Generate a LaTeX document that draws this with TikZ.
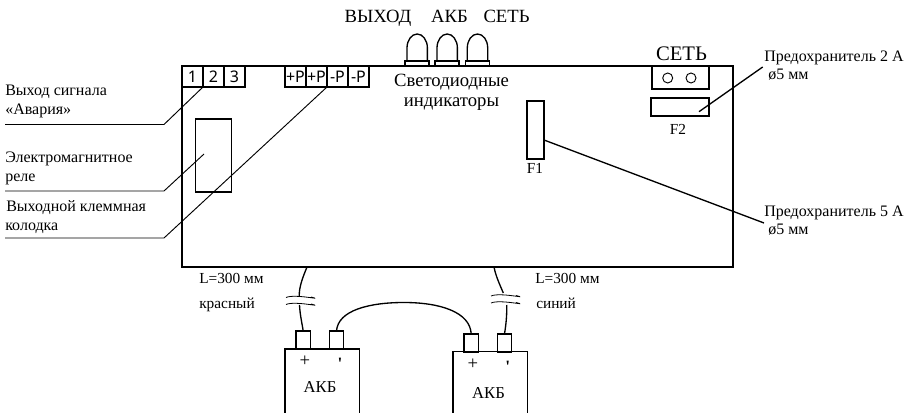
\documentclass[tikz,border=0pt]{standalone}
\usepackage{fontspec}
\setmainfont{Liberation Serif}
\newfontfamily\termfont{Noto Sans}
\tikzset{
  px/.style 2 args={minimum width=#1*0.75pt,minimum height=#2*0.75pt},
  box/.style={draw,line width=1.1pt,inner sep=0pt,outer sep=0pt,fill=white},
  term/.style={box,line width=0.8pt,font=\termfont\fontsize{12}{14}\selectfont},
  lbl/.style={inner sep=0pt,anchor=base west,font=\fontsize{12}{14}\selectfont},
  lblsm/.style={lbl,font=\fontsize{11.5}{14}\selectfont},
  big/.style={inner sep=0pt,anchor=base,font=\fontsize{14}{16}\selectfont},
  mid/.style={inner sep=0pt,anchor=base,font=\fontsize{14}{16}\selectfont},
  small/.style={inner sep=0pt,anchor=base,font=\fontsize{11.5}{14}\selectfont},
  batlbl/.style={inner sep=0pt,anchor=base,font=\fontsize{12.5}{14}\selectfont},
  leader/.style={line width=0.7pt},
  wire/.style={line width=1pt},
  led/.style={line width=1pt},
  squig/.style={line width=0.6pt},
}
\begin{document}
\begin{tikzpicture}[x=0.75pt,y=-0.75pt]
\useasboundingbox (0,0) rectangle (914,413);
% main case
\node[box,px={551}{201},fill=none] (case) at (457.5,166.5) {};
% signal terminals
\node[term,px={21}{21}] (t1) at (192.5,76.5) {1};
\node[term,px={21}{21}] (t2) at (213.5,76.5) {2};
\node[term,px={21}{21}] (t3) at (234.5,76.5) {3};
% output terminals
\node[term,px={21}{21}] (p1) at (295.5,76.5) {+P};
\node[term,px={21}{21}] (p2) at (316.5,76.5) {+P};
\node[term,px={21}{21}] (m1) at (337.5,76.5) {-P};
\node[term,px={21}{21}] (m2) at (358.5,76.5) {-P};
% relay
\node[box,px={36}{73},fill=none] (relay) at (213.5,155.5) {};
\coordinate (relayin) at (204,154);
% labels left
\node[lbl] (l1a) at (5,96) {Выход сигнала};
\node[lbl] (l1b) at (5,115) {«Авария»};
\node[lbl] (l2a) at (5,163) {Электромагнитное};
\node[lbl] (l2b) at (5,182) {реле};
\node[lbl] (l3a) at (6,212) {Выходной клеммная};
\node[lbl] (l3b) at (5,231) {колодка};
\coordinate (a1) at (5,124.5); \coordinate (b1) at (164,124.5);
\coordinate (a2) at (5,191); \coordinate (b2) at (164,191);
\coordinate (a3) at (5,238); \coordinate (b3) at (164,238);
\draw[leader] (a1) -- (b1) -- (t2.south west);
\draw[leader] (a2) -- (b2) -- (relayin);
\draw[leader] (a3) -- (b3) -- (p2.south east);
% LEDs
\foreach \n/\c in {ledA/417,ledB/447,ledC/477.3}{
  \node[box,line width=0.9pt,px={24}{5}] (\n) at (\c,63.5) {};
  \draw[led] (\n.north west)++(2,0) -- ++(0,-13) arc[start angle=180,end angle=0,x radius=10.2,y radius=-14] -- ++(0,13);
}
\node[big] (tv) at (378,23) {ВЫХОД};
\node[big] (ta) at (449.5,23) {АКБ};
\node[big] (ts) at (506.5,23) {СЕТЬ};
\node[mid] (ind1) at (451.5,87) {Светодиодные};
\node[mid] (ind2) at (451.5,107) {индикаторы};
% F1
\node[box,px={17}{58}] (f1) at (535.5,130) {};
\node[small] (f1l) at (535,174) {F1};
% power
\node[big,font=\fontsize{15.5}{18}\selectfont] (ts2) at (681.5,61) {СЕТЬ};
\node[box,px={57}{23}] (pw) at (680.5,77.5) {};
\node[draw,circle,line width=0.7pt,minimum size=7.5pt,inner sep=0pt] (c1) at (667.7,78) {};
\node[draw,circle,line width=0.7pt,minimum size=7.5pt,inner sep=0pt] (c2) at (691,78) {};
% F2
\node[box,line width=1.4pt,px={58}{17.5}] (f2) at (679.7,107) {};
\node[small] (f2l) at (678,135) {F2};
\coordinate (f2in) at (699,111.7);
\coordinate (f2out) at (762.7,67);
\coordinate (f1out) at (764,223);
\draw[wire] (f2in) -- (f2out);
\draw[wire] (f1.east|-0,140) -- (f1out);
\node[lbl] (r2a) at (764,61.5) {Предохранитель 2 А};
\node[lbl] (r2b) at (768,80) {ø5 мм};
\node[lbl] (r5a) at (764,217) {Предохранитель 5 А};
\node[lbl] (r5b) at (768,235) {ø5 мм};
% batteries
\coordinate (bat1b) at (285,414); \coordinate (bat1c) at (359.3,414);
\coordinate (bat2b) at (453,414); \coordinate (bat2c) at (527.3,414);
\draw[box,fill=none] (bat1b) -- (285,349) coordinate (bat1tl) -- (359.3,349) coordinate (bat1tr) -- (bat1c);
\draw[box,fill=none] (bat2b) -- (453,351.7) coordinate (bat2tl) -- (527.3,351.7) coordinate (bat2tr) -- (bat2c);
\node[box,px={14.5}{18}] (b1p) at (303.2,340) {};
\node[box,px={14.5}{18}] (b1m) at (336.5,340) {};
\node[box,px={14.5}{18}] (b2p) at (471.2,342.8) {};
\node[box,px={14.5}{18}] (b2m) at (504.5,342.8) {};
\node[inner sep=0pt,anchor=base,font=\fontsize{14}{16}\selectfont] (pl1) at (305,366) {+};
\node[inner sep=0pt,anchor=base,font=\fontsize{14}{16}\selectfont] (pl2) at (473,369) {+};
\node[inner sep=0pt,anchor=base,font=\bfseries\fontsize{13}{16}\selectfont] (mi1) at (340,369.5) {\textquotesingle};
\node[inner sep=0pt,anchor=base,font=\bfseries\fontsize{13}{16}\selectfont] (mi2) at (507.7,372.5) {\textquotesingle};
\node[batlbl] (ak1) at (320,392.5) {АКБ};
\node[batlbl] (ak2) at (488.5,398) {АКБ};
% wires
\coordinate (w1t) at (307,267); \coordinate (w1a) at (299.3,296); \coordinate (w1b) at (299.5,305);
\coordinate (w2t) at (494,267); \coordinate (w2a) at (503.3,293); \coordinate (w2b) at (506.7,305);
\draw[wire] (w1t) .. controls (302,279) and (299,288) .. (w1a);
\draw[wire] (w1b) .. controls (300,315) and (302,323) .. (b1p.north);
\draw[wire] (w2t) .. controls (496,277) and (500,285) .. (w2a);
\draw[wire] (w2b) .. controls (507,315) and (506,325) .. (b2m.north);
\draw[wire] (b1m.north) .. controls (338,310) and (370,302.5) .. (404,302.5) .. controls (440,302.5) and (470,312) .. (b2p.north);
\foreach \x/\y in {286/297.5,286/304.5,491/296,491/303}{
  \coordinate (s) at (\x,\y);
  \draw[squig] (s) .. controls +(9,-4) and +(15,4) .. +(25,-0.5);
}
\node[lblsm] (ll1) at (199,284) {L=300 мм};
\node[lblsm] (kr) at (199,309) {красный};
\node[lblsm] (ll2) at (535,284) {L=300 мм};
\node[lblsm] (si) at (536,309) {синий};
\end{tikzpicture}
\end{document}
